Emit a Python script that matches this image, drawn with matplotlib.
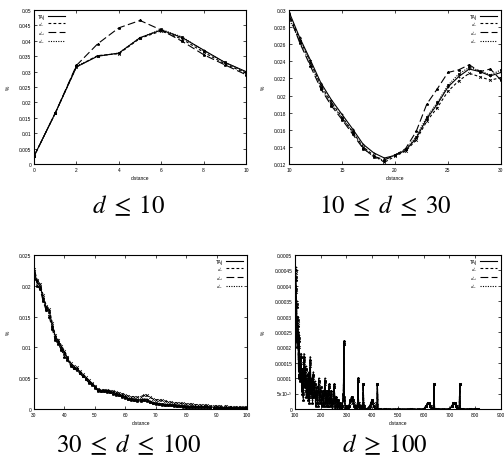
import numpy as np
import matplotlib.pyplot as plt
from matplotlib.ticker import FixedLocator

plt.rcParams['font.family'] = ['Liberation Sans', 'DejaVu Sans']
plt.rcParams['mathtext.fontset'] = 'stix'

names = ['TAj', '$d_T$', '$d_{td}$', '$d_{te}$']

# d <= 10
d1 = list(range(0, 11))
taj1 = [0.0025, 0.0165, 0.0315, 0.0350, 0.0360, 0.0410, 0.0435, 0.0410, 0.0370, 0.0330, 0.0300]
dt1 = [0.0025, 0.0165, 0.0315, 0.0352, 0.0358, 0.0408, 0.0432, 0.0405, 0.0363, 0.0325, 0.0295]
dtd1 = [0.0025, 0.0165, 0.0320, 0.0390, 0.0442, 0.0466, 0.0435, 0.0398, 0.0355, 0.0322, 0.0290]
dte1 = [0.0025, 0.0165, 0.0318, 0.0350, 0.0360, 0.0410, 0.0437, 0.0412, 0.0368, 0.0330, 0.0298]

# 10 <= d <= 30
d2 = list(range(10, 31))
taj2 = [0.0298, 0.0268, 0.0242, 0.0215, 0.0195, 0.0178, 0.0161, 0.0143, 0.0133, 0.0127, 0.0130,
        0.0136, 0.0150, 0.0173, 0.0190, 0.0210, 0.0222, 0.0231, 0.0228, 0.0223, 0.0227]
dt2 = [0.0295, 0.0266, 0.0240, 0.0212, 0.0192, 0.0175, 0.0158, 0.0140, 0.0130, 0.0122, 0.0129,
       0.0135, 0.0148, 0.0170, 0.0186, 0.0205, 0.0217, 0.0226, 0.0222, 0.0218, 0.0221]
dtd2 = [0.0295, 0.0262, 0.0235, 0.0208, 0.0188, 0.0172, 0.0155, 0.0138, 0.0129, 0.0125, 0.0130,
        0.0138, 0.0158, 0.0190, 0.0208, 0.0227, 0.0230, 0.0236, 0.0228, 0.0231, 0.0218]
dte2 = [0.0290, 0.0264, 0.0238, 0.0210, 0.0190, 0.0174, 0.0157, 0.0139, 0.0128, 0.0124, 0.0131,
        0.0137, 0.0152, 0.0175, 0.0192, 0.0212, 0.0225, 0.0233, 0.0229, 0.0224, 0.0230]

# 30 <= d <= 100
d3 = list(range(30, 101))
taj3 = [0.0225, 0.0205, 0.0200, 0.0180, 0.0165, 0.0160, 0.0135, 0.0118, 0.0110, 0.0100,
        0.0092, 0.0083, 0.0072, 0.0068, 0.0066, 0.0060, 0.0055, 0.0050, 0.0045, 0.0040,
        0.0036, 0.0031, 0.0030, 0.0030, 0.0030, 0.0029, 0.0027, 0.0025, 0.0024, 0.0022,
        0.0020, 0.0017, 0.0016, 0.0016, 0.0015, 0.0015, 0.0016, 0.0016, 0.0013, 0.0011,
        0.0009, 0.0009, 0.0008, 0.0008, 0.0007, 0.0007, 0.0006, 0.0006, 0.0005, 0.0005,
        0.0005, 0.0004, 0.0005, 0.0004, 0.0004, 0.0003, 0.0004, 0.0003, 0.0003, 0.0003,
        0.0003, 0.0003, 0.0002, 0.0003, 0.0002, 0.0002, 0.0002, 0.0002, 0.0002, 0.0002,
        0.0002]
dt3 = [0.0228, 0.0210, 0.0203, 0.0185, 0.0168, 0.0162, 0.0140, 0.0120, 0.0112, 0.0103,
       0.0094, 0.0085, 0.0075, 0.0070, 0.0068, 0.0062, 0.0057, 0.0052, 0.0047, 0.0042,
       0.0038, 0.0033, 0.0031, 0.0031, 0.0031, 0.0030, 0.0029, 0.0027, 0.0026, 0.0025,
       0.0023, 0.0021, 0.0020, 0.0020, 0.0019, 0.0020, 0.0022, 0.0022, 0.0019, 0.0017,
       0.0015, 0.0015, 0.0014, 0.0013, 0.0012, 0.0011, 0.0010, 0.0010, 0.0009, 0.0009,
       0.0008, 0.0008, 0.0008, 0.0007, 0.0007, 0.0006, 0.0006, 0.0006, 0.0005, 0.0005,
       0.0005, 0.0005, 0.0004, 0.0005, 0.0004, 0.0004, 0.0003, 0.0004, 0.0003, 0.0003,
       0.0003]
dtd3 = [0.0220, 0.0200, 0.0195, 0.0175, 0.0160, 0.0150, 0.0130, 0.0112, 0.0105, 0.0096,
        0.0085, 0.0080, 0.0070, 0.0066, 0.0063, 0.0058, 0.0053, 0.0048, 0.0043, 0.0039,
        0.0034, 0.0030, 0.0029, 0.0029, 0.0028, 0.0027, 0.0025, 0.0023, 0.0022, 0.0020,
        0.0018, 0.0016, 0.0014, 0.0014, 0.0013, 0.0013, 0.0014, 0.0013, 0.0011, 0.0009,
        0.0008, 0.0008, 0.0007, 0.0007, 0.0006, 0.0006, 0.0005, 0.0005, 0.0005, 0.0004,
        0.0004, 0.0004, 0.0004, 0.0003, 0.0003, 0.0003, 0.0003, 0.0003, 0.0002, 0.0002,
        0.0002, 0.0002, 0.0002, 0.0002, 0.0002, 0.0002, 0.0001, 0.0001, 0.0001, 0.0001,
        0.0001]
dte3 = [0.0223, 0.0207, 0.0198, 0.0178, 0.0163, 0.0157, 0.0133, 0.0116, 0.0108, 0.0098,
        0.0090, 0.0082, 0.0071, 0.0067, 0.0065, 0.0059, 0.0054, 0.0049, 0.0044, 0.0040,
        0.0035, 0.0031, 0.0030, 0.0030, 0.0029, 0.0028, 0.0026, 0.0024, 0.0023, 0.0021,
        0.0019, 0.0017, 0.0016, 0.0015, 0.0015, 0.0014, 0.0015, 0.0015, 0.0012, 0.0010,
        0.0009, 0.0008, 0.0008, 0.0007, 0.0007, 0.0006, 0.0006, 0.0005, 0.0005, 0.0005,
        0.0004, 0.0004, 0.0004, 0.0004, 0.0003, 0.0003, 0.0003, 0.0003, 0.0003, 0.0002,
        0.0003, 0.0002, 0.0002, 0.0002, 0.0002, 0.0002, 0.0002, 0.0002, 0.0001, 0.0002,
        0.0001]

# d >= 100, values in units of 1e-5
d4 = [100, 102, 104, 106, 108, 110, 112, 114, 116, 118,
      120, 123, 126, 129, 132, 135, 138, 141, 144, 147,
      150, 153, 156, 159, 162, 165, 168, 171, 174, 177,
      180, 184, 188, 192, 196, 200, 204, 208, 212, 216,
      220, 224, 228, 232, 236, 240, 244, 248, 252, 256,
      260, 264, 268, 272, 276, 280, 284, 288, 290, 292,
      296, 300, 305, 310, 315, 320, 325, 330, 335, 340,
      343, 345, 347, 350, 355, 360, 363, 365, 367, 370,
      380, 390, 395, 400, 405, 410, 418, 420, 422, 430,
      450, 500, 550, 600, 610, 615, 620, 625, 630, 638,
      640, 642, 650, 700, 710, 715, 720, 725, 730, 738,
      740, 742, 750, 780, 800, 810]
taj4 = [30, 46, 40, 35, 22, 30, 26, 12, 24, 15,
        10, 18, 6, 12, 4, 18, 8, 14, 5, 10,
        4, 12, 3, 17, 6, 9, 3, 12, 5, 9,
        2, 6, 2, 10, 3, 7, 2, 5, 1, 10,
        2, 6, 1, 8, 2, 5, 1, 3, 8, 1,
        4, 1, 3, 1, 2, 0, 1, 5, 22, 4,
        0, 1, 0, 1, 3, 4, 3, 1, 0, 1,
        2, 10, 1, 1, 0, 1, 1, 8, 1, 0,
        0, 1, 2, 3, 1, 0, 0, 8, 0, 0,
        0, 0, 0, 0, 1, 2, 2, 1, 0, 0,
        8, 0, 0, 0, 1, 2, 2, 1, 0, 0,
        8, 0, 0, 0, 0, 0]
dt4 = [32, 44, 38, 30, 25, 28, 22, 15, 20, 18,
       12, 15, 8, 10, 6, 15, 10, 12, 7, 8,
       6, 10, 4, 14, 7, 8, 4, 10, 6, 7,
       3, 5, 3, 8, 4, 6, 3, 4, 2, 8,
       3, 5, 2, 7, 3, 4, 2, 3, 7, 2,
       3, 2, 2, 1, 1, 1, 1, 4, 21, 3,
       1, 1, 0, 1, 2, 3, 3, 2, 1, 1,
       2, 9, 2, 1, 1, 1, 2, 8, 1, 0,
       0, 1, 2, 3, 2, 0, 0, 8, 0, 0,
       0, 0, 0, 0, 1, 2, 2, 1, 1, 0,
       8, 0, 0, 0, 1, 2, 2, 1, 1, 0,
       8, 0, 0, 0, 0, 0]
dtd4 = [28, 45, 42, 33, 20, 27, 25, 10, 22, 14,
        9, 17, 5, 13, 3, 17, 7, 13, 4, 11,
        3, 11, 2, 16, 5, 10, 2, 11, 4, 8,
        1, 7, 1, 9, 2, 6, 1, 6, 1, 9,
        1, 5, 1, 8, 1, 6, 0, 2, 8, 0,
        4, 0, 3, 0, 2, 0, 0, 5, 22, 3,
        0, 0, 0, 1, 3, 4, 2, 1, 0, 0,
        2, 10, 0, 0, 0, 0, 1, 8, 0, 0,
        0, 0, 2, 3, 1, 0, 0, 8, 0, 0,
        0, 0, 0, 0, 1, 2, 2, 1, 0, 0,
        8, 0, 0, 0, 1, 2, 2, 1, 0, 0,
        8, 0, 0, 0, 0, 0]
dte4 = [31, 43, 39, 34, 23, 29, 24, 13, 23, 16,
        11, 17, 7, 11, 5, 16, 9, 13, 6, 9,
        5, 11, 4, 15, 7, 9, 4, 11, 5, 8,
        2, 6, 2, 9, 3, 7, 2, 5, 2, 9,
        2, 6, 1, 7, 2, 5, 1, 3, 7, 1,
        3, 1, 3, 1, 2, 0, 1, 5, 21, 4,
        0, 1, 0, 1, 3, 4, 3, 1, 0, 1,
        2, 9, 1, 1, 0, 1, 1, 8, 1, 0,
        0, 1, 2, 3, 1, 0, 0, 8, 0, 0,
        0, 0, 0, 0, 1, 2, 2, 1, 0, 0,
        8, 0, 0, 0, 1, 2, 2, 1, 0, 0,
        8, 0, 0, 0, 0, 0]

styles = ['-', (0, (2.5, 2)), (0, (7, 3)), (0, (1, 1.2))]
marks = ['+', 'x', '*', 's']

fig = plt.figure(figsize=(5.04, 4.64), dpi=100)

panels = [
    dict(pos=[0.0675, 0.6444, 0.4206, 0.3319], x=d1, ys=[taj1, dt1, dtd1, dte1], scale=1,
         xlim=(0, 10), xt=range(0, 11, 2), ylim=(0, 0.05), yt=np.arange(0, 0.0501, 0.005),
         ylab=['0', '0.005', '0.01', '0.015', '0.02', '0.025', '0.03', '0.035', '0.04', '0.045', '0.05'],
         loc='upper left', cap=r'$d\;\leq\;10$', cx=0.256, cy=1 - 213 / 464),
    dict(pos=[0.5734, 0.6444, 0.4206, 0.3319], x=d2, ys=[taj2, dt2, dtd2, dte2], scale=1,
         xlim=(10, 30), xt=range(10, 31, 5), ylim=(0.012, 0.03), yt=np.arange(0.012, 0.0301, 0.002),
         ylab=['0.012', '0.014', '0.016', '0.018', '0.02', '0.022', '0.024', '0.026', '0.028', '0.03'],
         loc='upper right', cap=r'$10\;\leq\;d\;\leq\;30$', cx=0.764, cy=1 - 213 / 464),
    dict(pos=[0.0675, 0.1164, 0.4226, 0.3319], x=d3, ys=[taj3, dt3, dtd3, dte3], scale=1,
         xlim=(30, 100), xt=range(30, 101, 10), ylim=(0, 0.025), yt=np.arange(0, 0.0251, 0.005),
         ylab=['0', '0.005', '0.01', '0.015', '0.02', '0.025'],
         loc='upper right', cap=r'$30\;\leq\;d\;\leq\;100$', cx=0.256, cy=1 - 452 / 464),
    dict(pos=[0.5853, 0.1164, 0.4087, 0.3319], x=d4, ys=[taj4, dt4, dtd4, dte4], scale=1e-5,
         xlim=(100, 900), xt=range(100, 901, 100), ylim=(0, 0.0005), yt=np.arange(0, 0.000501, 0.00005),
         ylab=['0', '5x10$^{-5}$', '0.0001', '0.00015', '0.0002', '0.00025', '0.0003',
               '0.00035', '0.0004', '0.00045', '0.0005'],
         loc='upper right', cap=r'$d\;\geq\;100$', cx=0.764, cy=1 - 452 / 464),
]

for p in panels:
    ax = fig.add_axes(p['pos'])
    for y, name, ls, mk in zip(p['ys'], names, styles, marks):
        ax.plot(p['x'], np.array(y) * p['scale'], color='black', lw=0.8, ls=ls,
                marker=mk, ms=2, mew=0.5, mfc='black', label=name)
    ax.set_xlim(*p['xlim'])
    ax.set_ylim(*p['ylim'])
    ax.xaxis.set_major_locator(FixedLocator(list(p['xt'])))
    ax.yaxis.set_major_locator(FixedLocator(list(p['yt'])))
    ax.set_yticklabels(p['ylab'])
    ax.tick_params(direction='in', top=True, right=True, length=2.5, width=0.5,
                   labelsize=3.5, pad=2)
    for s in ax.spines.values():
        s.set_linewidth(0.8)
    ax.set_xlabel('distance', fontsize=3.5, labelpad=2)
    ax.set_ylabel('%', fontsize=3.5, labelpad=6)
    ax.legend(loc=p['loc'], frameon=False, fontsize=3.5, markerfirst=False,
              handlelength=3.5, handletextpad=0.6, labelspacing=0.05,
              borderaxespad=0.4, markerscale=0)
    fig.text(p['cx'], p['cy'], p['cap'], fontsize=18, ha='center', va='baseline')

fig.savefig('out.png', dpi=100)
